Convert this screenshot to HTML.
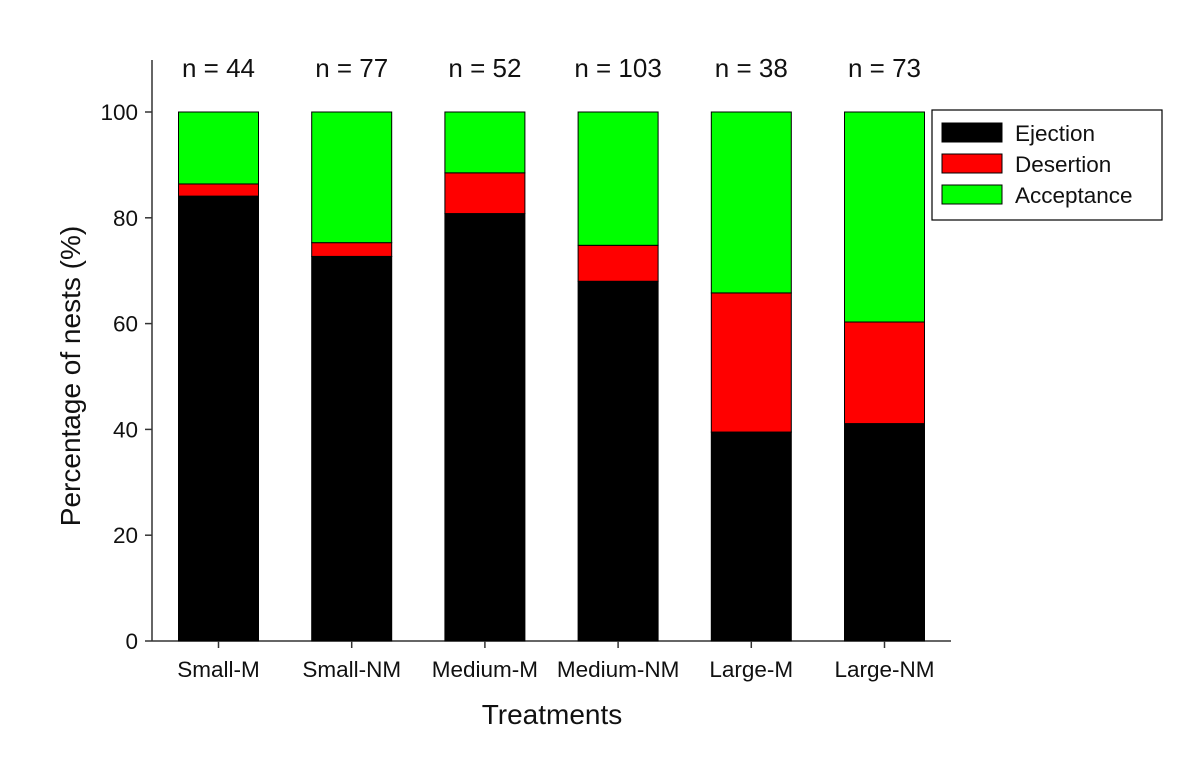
<!DOCTYPE html>
<html><head><meta charset="utf-8"><style>
body{margin:0;background:#fff;}
svg text{font-family:"Liberation Sans",Arial,sans-serif;fill:#111;}
</style></head><body>
<svg id="chart" width="1182" height="752">
<g id="plot"></g>
</svg>
<script>
const categories=["Small-M","Small-NM","Medium-M","Medium-NM","Large-M","Large-NM"];
const nLabels=["n = 44","n = 77","n = 52","n = 103","n = 38","n = 73"];
const ejection=[84.1,72.7,80.8,68.0,39.5,41.1];
const desertion=[2.3,2.6,7.7,6.8,26.3,19.2];
const acceptance=[13.6,24.7,11.5,25.2,34.2,39.7];
const yTicks=[0,20,40,60,80,100];
const NS="http://www.w3.org/2000/svg";
const g=document.getElementById('plot');
function y(v){return 641-v*5.29;}
function xc(i){return 218.5+i*133.2;}
const bw=80;
function mk(t,a,p){const e=document.createElementNS(NS,t);for(const k in a)e.setAttribute(k,a[k]);(p||g).appendChild(e);return e;}
let e=mk('line',{x1:152,y1:60,x2:152,y2:641,stroke:'#333','stroke-width':1.5});


e=mk('line',{x1:152,y1:641,x2:951,y2:641,stroke:'#333','stroke-width':1.5});


yTicks.forEach(v=>{
 let t=mk('line',{x1:145,y1:y(v),x2:152,y2:y(v),stroke:'#333','stroke-width':1.5});
 
 
 let l=mk('text',{x:138,y:y(v)+8,'text-anchor':'end','font-size':22.5});
 l.textContent=v;
 
 
});
const series=[[ejection,'#000','ejection'],[desertion,'#ff0000','desertion'],[acceptance,'#00ff00','acceptance']];
categories.forEach((c,i)=>{
 let base=0;
 series.forEach(s=>{
  const v=s[0][i];
  let r=mk('rect',{x:xc(i)-bw/2,y:y(base+v),width:bw,height:v*5.29,fill:s[1],stroke:'#000','stroke-width':1});
  
  
  base+=v;
 });
 let t=mk('line',{x1:xc(i),y1:641,x2:xc(i),y2:648,stroke:'#333','stroke-width':1.5});
 
 
 let l=mk('text',{x:xc(i),y:677,'text-anchor':'middle','font-size':22.5});
 l.textContent=c;
 
 
 let n=mk('text',{x:xc(i),y:77,'text-anchor':'middle','font-size':26});
 n.textContent=nLabels[i];
 
 
});
let yt=mk('text',{x:0,y:0,'text-anchor':'middle','font-size':28,transform:'translate(80,376) rotate(-90)'});
yt.textContent='Percentage of nests (%)';


let xt=mk('text',{x:552,y:724,'text-anchor':'middle','font-size':28});
xt.textContent='Treatments';


let lg=mk('g',{});


mk('rect',{x:932,y:110,width:230,height:110,fill:'#fff',stroke:'#000','stroke-width':1.2},lg);
series.forEach((s,k)=>{
 const yy=123+k*31;
 let r=mk('rect',{x:942,y:yy,width:60,height:19,fill:s[1],stroke:'#000','stroke-width':1},lg);
 
 
 let t=mk('text',{x:1015,y:yy+18,'font-size':22.5},lg);
 t.textContent=['Ejection','Desertion','Acceptance'][k];
 
 
});
</script>
</body></html>
